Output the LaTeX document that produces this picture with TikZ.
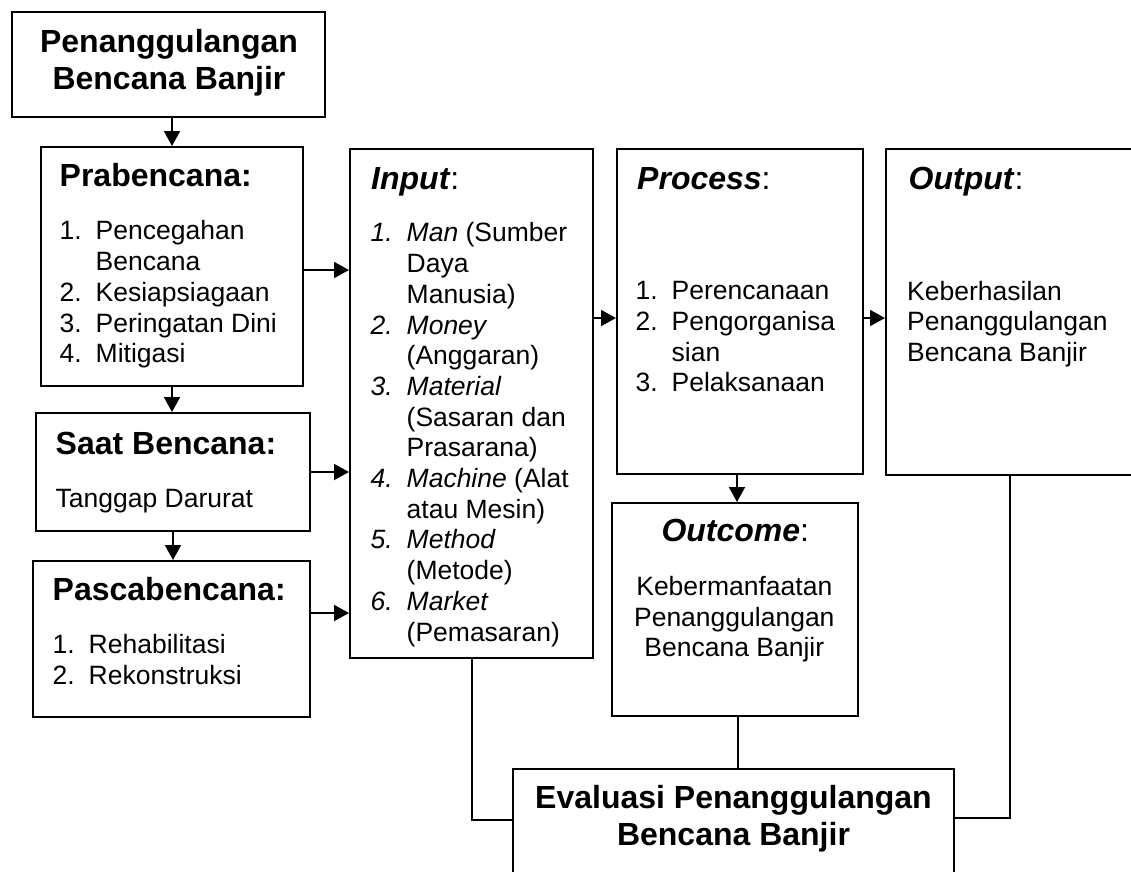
\documentclass[tikz,border=0pt]{standalone}
\usepackage{fontspec}
\setmainfont{Liberation Sans}
\usetikzlibrary{arrows.meta}
\newcommand\bodyfont{\fontsize{26.5}{30.7}\selectfont}
\newcommand\headfont{\fontsize{32}{37}\selectfont\bfseries}
\newcommand\numbox[1]{\makebox[36pt][l]{#1}}
\newcommand\hangsp{\hspace*{36pt}}
\begin{document}
\begin{tikzpicture}[x=1pt,y=-1pt,
  box/.style={draw=black, line width=2pt, rectangle, inner sep=0pt},
  arr/.style={line width=2pt, -{Triangle[length=15pt,width=16pt]}},
  conn/.style={line width=2pt},
  txt/.style={inner sep=0pt, anchor=base west, align=left, font=\bodyfont},
  txtc/.style={inner sep=0pt, anchor=base, align=center, font=\bodyfont},
  head/.style={inner sep=0pt, anchor=base west, align=left, font=\headfont},
  headc/.style={inner sep=0pt, anchor=base, align=center, font=\headfont}]
\useasboundingbox (0,0) rectangle (1131,871);
\clip (0,0) rectangle (1131,871);
\fill[white] (0,0) rectangle (1131,871);
% boxes
\node[box, minimum width=313pt, minimum height=105pt] (top) at (168.5,64.5) {};
\node[box, minimum width=262pt, minimum height=239pt] (pra) at (172,266.5) {};
\node[box, minimum width=274pt, minimum height=118pt] (saat) at (173,472) {};
\node[box, minimum width=277pt, minimum height=156pt] (pasca) at (171.5,639) {};
\node[box, minimum width=243pt, minimum height=509pt] (input) at (471.5,403.5) {};
\node[box, minimum width=246pt, minimum height=325pt] (process) at (740,311.5) {};
\node[box, minimum width=259pt, minimum height=326pt] (output) at (1015.5,312) {};
\node[box, minimum width=246pt, minimum height=213pt] (outcome) at (735,609.5) {};
\node[box, minimum width=441pt, minimum height=116pt] (eval) at (733.5,827) {};
% texts (base anchor of a multi-line node = baseline of its last line)
\node[headc] (topT) at (169,89.3) {Penanggulangan\\Bencana Banjir};
\node[head] (praH) at (59.5,186.7) {Prabencana:};
\node[txt] (praL) at (59.5,362.7) {\numbox{1.}Pencegahan\\\hangsp Bencana\\\numbox{2.}Kesiapsiagaan\\\numbox{3.}Peringatan Dini\\\numbox{4.}Mitigasi};
\node[head] (saatH) at (55.5,454) {Saat Bencana:};
\node[txt] (saatL) at (55.5,507.3) {Tanggap Darurat};
\node[head] (pascaH) at (52.5,600.7) {Pascabencana:};
\node[txt] (pascaL) at (52.5,684.3) {\numbox{1.}Rehabilitasi\\\numbox{2.}Rekonstruksi};
\node[head] (inputH) at (371,189.3) {\textit{Input}\mdseries:};
\node[txt] (inputL) at (370.5,641) {\numbox{\textit{1.}}\textit{Man} (Sumber\\\hangsp Daya\\\hangsp Manusia)\\\numbox{\textit{2.}}\textit{Money}\\\hangsp(Anggaran)\\\numbox{\textit{3.}}\textit{Material}\\\hangsp(Sasaran dan\\\hangsp Prasarana)\\\numbox{\textit{4.}}\textit{Machine} (Alat\\\hangsp atau Mesin)\\\numbox{\textit{5.}}\textit{Method}\\\hangsp(Metode)\\\numbox{\textit{6.}}\textit{Market}\\\hangsp(Pemasaran)};
\node[head] (processH) at (637,189.3) {\textit{Process}\mdseries:};
\node[txt] (processL) at (635.5,391.7) {\numbox{1.}Perencanaan\\\numbox{2.}Pengorganisa\\\hangsp sian\\\numbox{3.}Pelaksanaan};
\node[head] (outputH) at (908.5,189.3) {\textit{Output}\mdseries:};
\node[txt] (outputL) at (907,361.5) {Keberhasilan\\Penanggulangan\\Bencana Banjir};
\node[headc] (outcomeH) at (735.3,541) {\textit{Outcome}\mdseries:};
\node[txtc] (outcomeL) at (734.3,656.7) {Kebermanfaatan\\Penanggulangan\\Bencana Banjir};
\node[headc] (evalT) at (733.5,845) {Evaluasi Penanggulangan\\Bencana Banjir};
% connectors
\draw[arr] (top.south -| pra.north) -- (pra.north);
\draw[arr] (pra.south) -- (pra.south |- saat.north);
\draw[arr] (saat.south) -- (saat.south |- pasca.north);
\draw[arr] (pra.east |- 0,270) -- (input.west |- 0,270);
\draw[arr] (saat.east) -- (saat.east -| input.west);
\draw[arr] (pasca.east |- 0,613) -- (input.west |- 0,613);
\draw[arr] (input.east |- 0,318) -- (process.west |- 0,318);
\draw[arr] (process.east |- 0,318) -- (output.west |- 0,318);
\draw[arr] (process.south -| 737,0) -- (outcome.north -| 737,0);
\draw[conn] (outcome.south -| 738,0) -- (eval.north -| 738,0);
\draw[conn] (input.south) |- (eval.west |- 0,820);
\draw[conn] (output.south -| 1010,0) |- (eval.east |- 0,818);
\end{tikzpicture}
\end{document}
